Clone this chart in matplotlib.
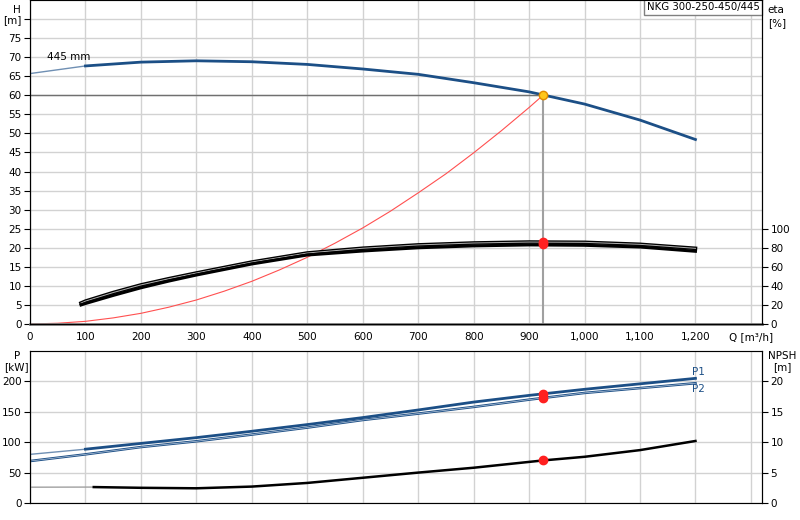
import matplotlib
matplotlib.use('Agg')
import matplotlib.pyplot as plt

plt.rcParams['font.family'] = 'DejaVu Sans'
plt.rcParams['font.size'] = 7

# pump curve H(Q), 445 mm impeller
q_h = [0, 100, 200, 300, 400, 500, 600, 700, 800, 900, 1000, 1100, 1200]
h = [65.7, 67.7, 68.7, 69.05, 68.8, 68.1, 66.9, 65.5, 63.3, 60.9, 57.7, 53.5, 48.4]

# system curve
q_sys = [0, 50, 100, 150, 200, 250, 300, 350, 400, 450, 500, 550, 600, 650,
         700, 750, 800, 850, 900, 925]
h_sys = [0, 0.2, 0.7, 1.6, 2.8, 4.4, 6.3, 8.6, 11.2, 14.2, 17.5, 21.2, 25.2,
         29.6, 34.4, 39.4, 44.9, 50.7, 56.8, 60.0]

# efficiency [%]
q_eta = [92, 100, 150, 200, 250, 300, 400, 500, 600, 700, 800, 900, 1000, 1100, 1200]
eta1 = [22, 24, 33, 41, 47.5, 53.5, 65, 74.5, 79.5, 83, 85, 86, 85.7, 83.6, 79.4]
eta2 = [20, 21.5, 30, 38, 45, 51.4, 63, 72.4, 76.6, 80, 82, 83, 82.6, 80.8, 76.3]

# power [kW]
q_p = [0, 100, 200, 300, 400, 500, 600, 700, 800, 900, 1000, 1100, 1200]
p1 = [80, 88.5, 98, 107.5, 118, 129, 140.5, 153, 166, 177, 187, 196, 205]
p2 = [69, 80, 92, 101.5, 112.5, 124, 136.5, 147, 158, 170, 181, 189, 197]

# NPSH [m]
q_npsh = [0, 115, 200, 300, 400, 500, 600, 700, 800, 925, 1000, 1100, 1200]
npsh = [2.6, 2.62, 2.5, 2.42, 2.7, 3.3, 4.15, 5.0, 5.8, 7.0, 7.6, 8.7, 10.2]

# duty point
q_duty = 925
h_duty = 60
eta_duty = [86.5, 84]
p_duty = [180, 172.5]
npsh_duty = 7.0

x_ticks = list(range(0, 1400, 100))
x_labels = ['0', '100', '200', '300', '400', '500', '600', '700', '800', '900',
            '1,000', '1,100', '1,200', 'Q [m³/h]']

blue = '#1c4f86'
grid_c = '#d2d2d2'

fig = plt.figure(figsize=(8, 5.2), dpi=100)
W, H = 800, 520
ax = fig.add_axes([30 / W, 1 - 324 / H, 732 / W, 324 / H])
ax2 = fig.add_axes([30 / W, 1 - 503 / H, 732 / W, 152 / H])

# ---- top: head / efficiency ----
ax.set_xlim(0, 1320)
ax.set_ylim(0, 85)
ax.set_xticks(x_ticks)
ax.set_xticklabels(x_labels, fontsize=7.5)
ax.set_yticks(list(range(0, 85, 5)))
ax.set_yticklabels([str(v) for v in range(0, 80, 5)] + ['[m]'], fontsize=7.5)
ax.grid(True, color=grid_c, lw=1)
ax.set_axisbelow(True)
ax.tick_params(axis='x', length=0, pad=6)
ax.tick_params(axis='y', length=4, pad=2)
ax.text(-0.018, 82.3, 'H', ha='center', va='center', fontsize=7.5,
        transform=ax.get_yaxis_transform())

ax.plot(q_h[:2], h[:2], color='#6f8fb3', lw=1)
ax.plot(q_h[1:], h[1:], color=blue, lw=2)
ax.plot(q_sys, h_sys, color='#ff5050', lw=0.8)
ax.plot([0, q_duty], [h_duty, h_duty], color='#707070', lw=1)
ax.plot([q_duty, q_duty], [0, h_duty], color='#a0a0a0', lw=1.5)
ax.plot([q_duty], [h_duty], 'o', ms=6, mfc='#ffc61a', mec='#e08a00', mew=1, zorder=6)
ax.text(31, 70, '445 mm', ha='left', va='center', fontsize=7.5)
ax.text(0.9965, 0.994, 'NKG 300-250-450/445', transform=ax.transAxes, ha='right', va='top',
        fontsize=7.3, bbox=dict(boxstyle='square,pad=0.3', fc='white', ec='#808080', lw=1))

for side in ['left', 'right']:
    ax.spines[side].set_color('black')
ax.spines['bottom'].set_color('#808080')
ax.spines['bottom'].set_linewidth(2)
ax.spines['top'].set_color('#808080')

axe = ax.twinx()
axe.set_ylim(0, 340)
axe.set_yticks(list(range(0, 120, 20)))
axe.tick_params(axis='y', length=4, pad=2, labelsize=7.5)
axe.spines['right'].set_color('black')
axe.plot(q_eta, eta1, color='black', lw=2.6)
axe.plot(q_eta, eta1, color='#b0b0b0', lw=0.7)
axe.plot(q_eta, eta2, color='black', lw=2.2)
axe.plot([q_duty] * 2, eta_duty, 'o', ms=6, color='#ff2020', zorder=6)
axe.text(1.008, 330, 'eta', ha='left', va='center', fontsize=7.5,
         transform=axe.get_yaxis_transform())
axe.text(1.008, 316, '[%]', ha='left', va='center', fontsize=7.5,
         transform=axe.get_yaxis_transform())

# ---- bottom: power / NPSH ----
ax2.set_xlim(0, 1320)
ax2.set_ylim(0, 250)
ax2.set_xticks(x_ticks)
ax2.set_xticklabels([])
ax2.set_yticks([0, 50, 100, 150, 200])
ax2.grid(True, color=grid_c, lw=1)
ax2.set_axisbelow(True)
ax2.tick_params(axis='x', length=0)
ax2.tick_params(axis='y', length=4, pad=2, labelsize=7.5)
ax2.text(-0.018, 242, 'P', ha='center', va='center', fontsize=7.5,
         transform=ax2.get_yaxis_transform())
ax2.text(-0.018, 224, '[kW]', ha='center', va='center', fontsize=7.5,
         transform=ax2.get_yaxis_transform())

ax2.plot(q_p[:2], p1[:2], color='#6f8fb3', lw=1)
ax2.plot(q_p[1:], p1[1:], color=blue, lw=2)
ax2.plot(q_p, p2, color=blue, lw=1.8)
ax2.plot(q_p, p2, color='#b8c8dc', lw=0.5)
ax2.plot([q_duty] * 2, p_duty, 'o', ms=6, color='#ff2020', zorder=6)
ax2.text(1205, p1[-1] + 10, 'P1', color=blue, ha='center', va='center', fontsize=7.5)
ax2.text(1205, p2[-1] - 9, 'P2', color=blue, ha='center', va='center', fontsize=7.5)
ax2.spines['left'].set_color('black')
ax2.spines['right'].set_color('black')
ax2.spines['top'].set_color('#808080')
ax2.spines['bottom'].set_color('#808080')

axn = ax2.twinx()
axn.set_ylim(0, 25)
axn.set_yticks([0, 5, 10, 15, 20])
axn.tick_params(axis='y', length=4, pad=2, labelsize=7.5)
axn.plot(q_npsh[:2], npsh[:2], color='#a0a0a0', lw=1)
axn.plot(q_npsh[1:], npsh[1:], color='black', lw=1.8)
axn.plot([q_duty], [npsh_duty], 'o', ms=6, color='#ff2020', zorder=6)
axn.text(1.028, 24.2, 'NPSH', ha='center', va='center', fontsize=7.5,
         transform=axn.get_yaxis_transform())
axn.text(1.028, 22.3, '[m]', ha='center', va='center', fontsize=7.5,
         transform=axn.get_yaxis_transform())
axn.spines['right'].set_color('black')

fig.savefig('out.png', dpi=100)
